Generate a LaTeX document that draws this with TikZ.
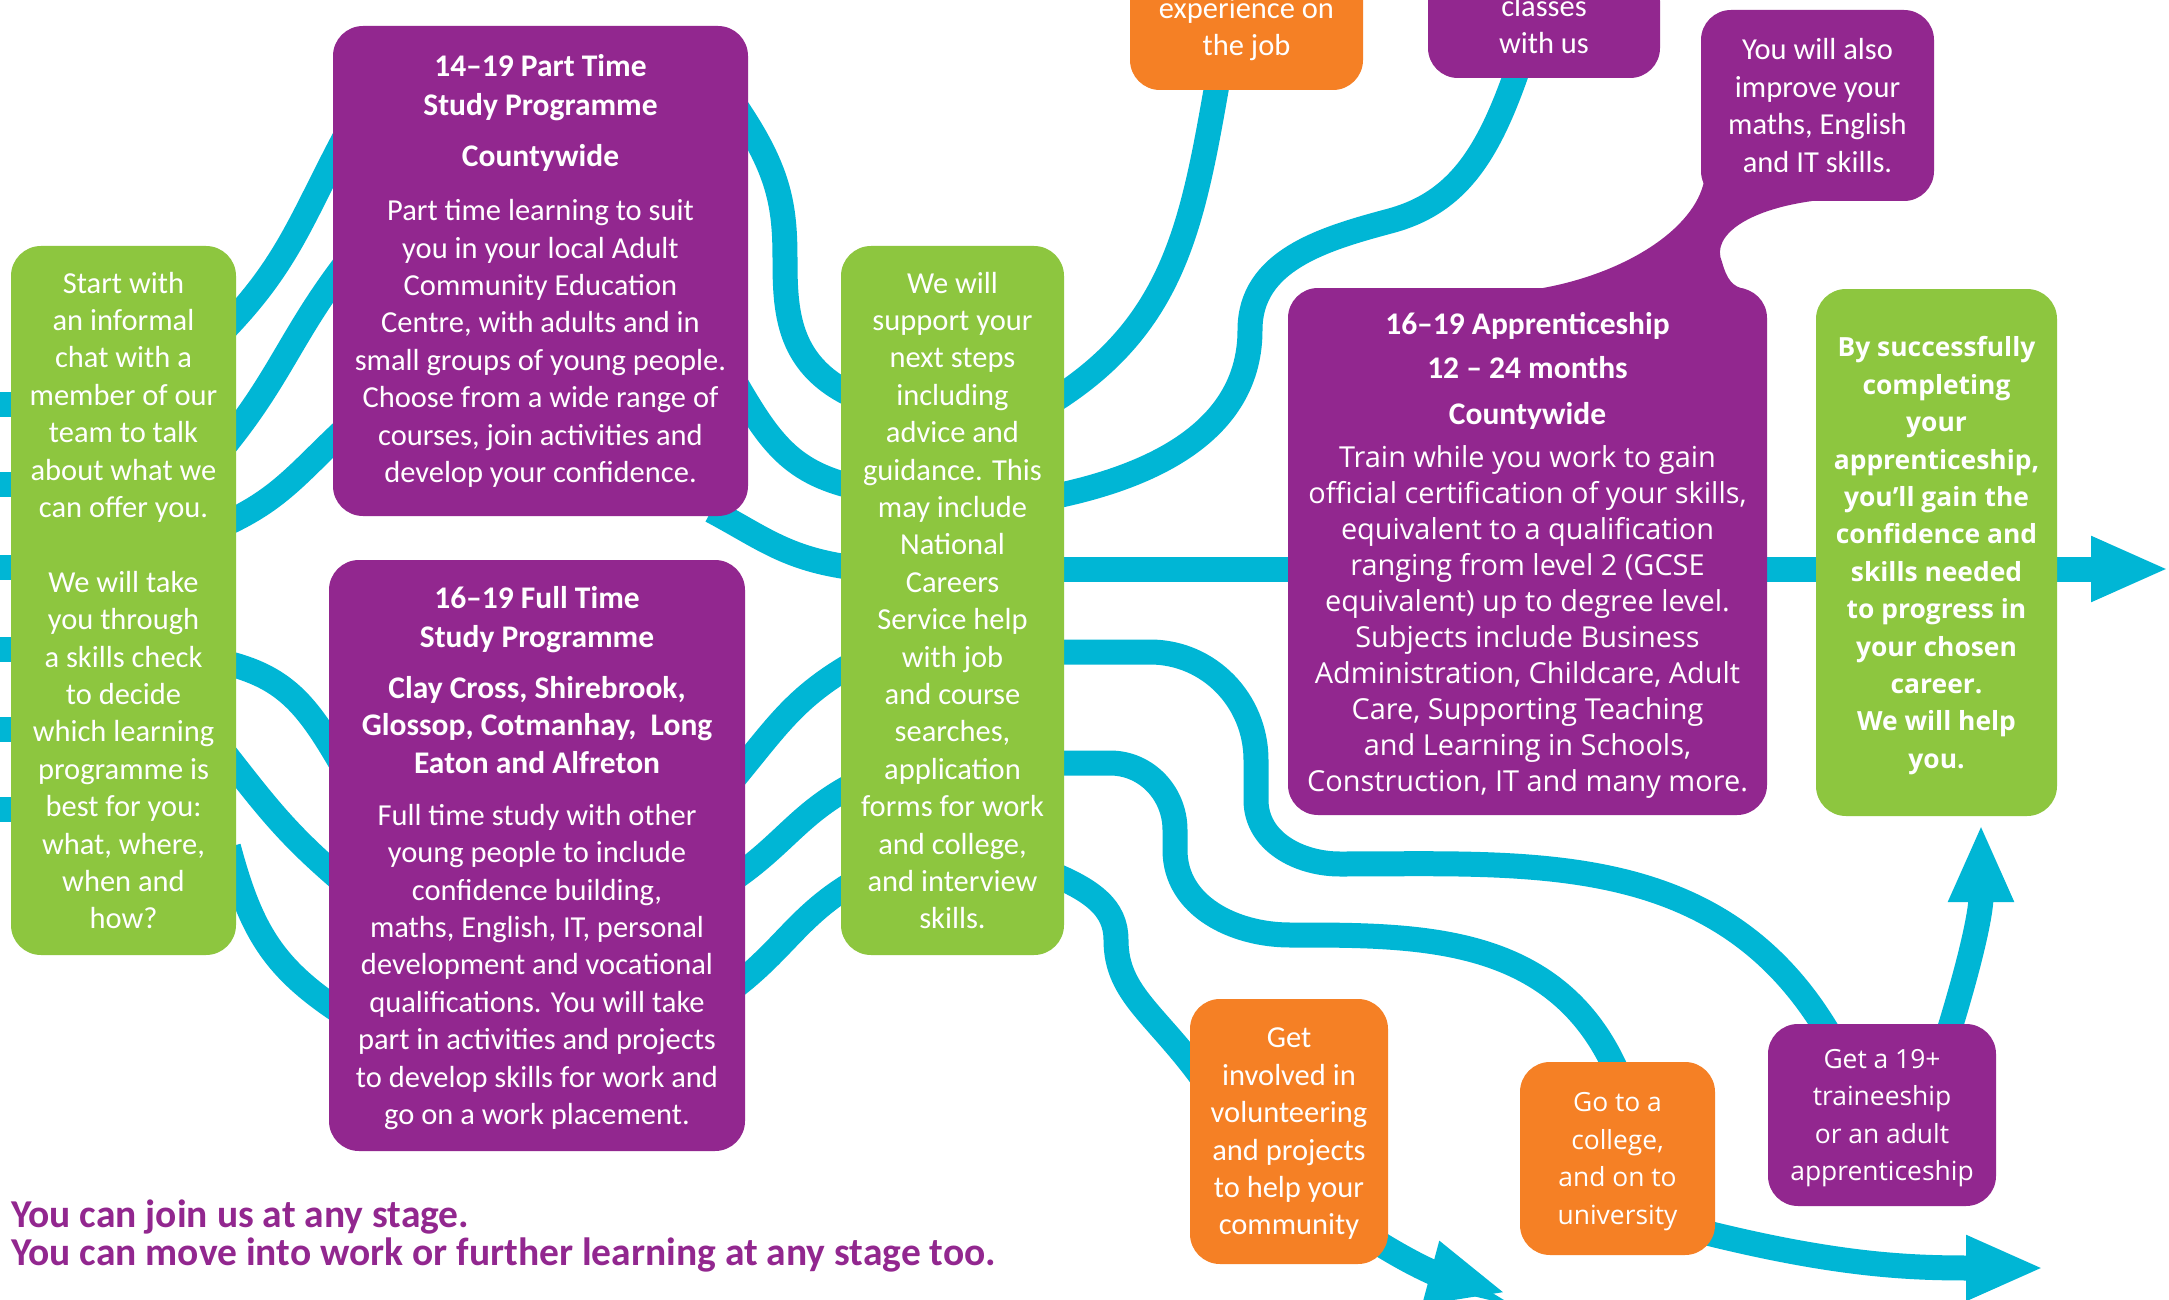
\documentclass[tikz,border=0pt]{standalone}
\usepackage{fontspec}
\setmainfont{Carlito}
\newfontfamily\widefont{Open Sans}
\usetikzlibrary{arrows.meta,backgrounds}

\definecolor{boxgreen}{HTML}{8DC63F}
\definecolor{boxpurple}{HTML}{92278F}
\definecolor{boxorange}{HTML}{F58025}
\definecolor{flowcyan}{HTML}{00B6D5}

\newcommand\boxfont{\fontsize{30.5}{37.4}\selectfont}
\newcommand\headfont{\rmfamily\bfseries\fontsize{31.5}{37.4}\selectfont}
\newcommand\widetxt{\widefont\fontsize{26.4}{37.4}\selectfont}
\newcommand\apprtxt{\widefont\fontsize{28.9}{36}\selectfont}
\newcommand\footfont{\bfseries\fontsize{39.5}{38}\selectfont}

\tikzset{
    box/.style={rounded corners=30pt, align=center, text=white, inner sep=3pt, font=\boxfont},
    greenbox/.style={box, fill=boxgreen},
    purplebox/.style={box, fill=boxpurple},
    orangebox/.style={box, fill=boxorange},
    boxsize/.style 2 args={minimum width=#1, minimum height=#2}, % 框的宽和高
    textdrop/.style={text depth=#1}, % 文字往下挪一点
}

\begin{document}
\begin{tikzpicture}[x=1pt, y=-1pt,
        flow/.style={draw=flowcyan, line width=25pt, shorten <=-30pt, shorten >=-30pt}, % 两端伸进框里
        flowarrow/.style={flow, shorten >=0pt, -{Triangle[length=78pt,width=60pt]}},
    ]
    \useasboundingbox (0,0) rectangle (2169,1300);

    % 气泡的尾巴
    \fill[boxpurple] (1520,300) -- (1543,288) .. controls (1630,272) and (1700,225) .. (1705,175)
        -- (1705,140) -- (1830,140) -- (1830,199) .. controls (1750,206) and (1710,235) .. (1722,262)
        .. controls (1727,280) and (1733,287) .. (1745,289) -- (1745,300) -- cycle;

    \node[greenbox, boxsize={225pt}{709pt}] (startbox) at (123.5,600.5) {Start with\\an informal\\chat with a\\member of our\\team to talk\\about what we\\can offer you.\\[37.4pt]We will take\\you through\\a skills check\\to decide\\which learning\\programme is\\best for you:\\what, where,\\when and\\how?};
    \node[purplebox, boxsize={415pt}{490pt}] (parttime) at (540.5,271) {{\headfont 14–19 Part Time}\\[1.6pt]{\headfont Study Programme}\\[13.6pt]{\headfont Countywide}\\[16.6pt]Part time learning to suit\\you in your local Adult\\Community Education\\Centre, with adults and in\\small groups of young people.\\Choose from a wide range of\\courses, join activities and\\develop your confidence.};
    \node[purplebox, boxsize={416pt}{591pt}, textdrop=0pt] (fulltime) at (537,855.5) {{\headfont 16–19 Full Time}\\[1.6pt]{\headfont Study Programme}\\[13.6pt]{\headfont Clay Cross, Shirebrook,}\\{\headfont Glossop, Cotmanhay,\ \ Long}\\{\headfont Eaton and Alfreton}\\[14.6pt]Full time study with other\\young people to include\\confidence building,\\maths, English, IT, personal\\development and vocational\\qualifications. You will take\\part in activities and projects\\to develop skills for work and\\go on a work placement.};
    \node[greenbox, boxsize={223pt}{709pt}, textdrop=-6pt] (midbox) at (952.5,600.5) {We will\\support your\\next steps\\including\\advice and\\guidance. This\\may include\\National\\Careers\\Service help\\with job\\and course\\searches,\\application\\forms for work\\and college,\\and interview\\skills.};
    \node[purplebox, boxsize={479pt}{527pt}, font=\apprtxt, textdrop=-5pt] (apprentice) at (1527.5,551.5) {{\headfont 16–19 Apprenticeship}\\[8pt]{\headfont 12 – 24 months}\\[10pt]{\headfont Countywide}\\[7pt]Train while you work to gain\\official certification of your skills,\\equivalent to a qualification\\ranging from level 2 (GCSE\\equivalent) up to degree level.\\Subjects include Business\\Administration, Childcare, Adult\\Care, Supporting Teaching\\and Learning in Schools,\\Construction, IT and many more.};
    \node[purplebox, boxsize={233pt}{191pt}] (alsobox) at (1817.5,105.5) {You will also\\improve your\\maths, English\\and IT skills.};
    \node[greenbox, boxsize={241pt}{527pt}, font=\widetxt\bfseries, textdrop=-7pt] (resultbox) at (1936.5,552.5) {By successfully\\completing\\your\\apprenticeship,\\you’ll gain the\\confidence and\\skills needed\\to progress in\\your chosen\\career.\\We will help\\you.};
    \node[orangebox, boxsize={233pt}{122pt}] (jobbox) at (1246.5,29) {experience on\\the job};
    \node[purplebox, boxsize={232pt}{107pt}] (classbox) at (1544,24.5) {classes\\with us};
    \node[orangebox, boxsize={198pt}{265pt}, textdrop=-4pt] (volbox) at (1289,1131.5) {Get\\involved in\\volunteering\\and projects\\to help your\\community};
    \node[orangebox, boxsize={195pt}{193pt}, font=\widetxt, textdrop=-5pt] (collegebox) at (1617.5,1158.5) {Go to a\\college,\\and on to\\university};
    \node[purplebox, boxsize={228pt}{182pt}, font=\widetxt, textdrop=-9pt] (trainbox) at (1882,1115) {Get a 19+\\traineeship\\or an adult\\apprenticeship};
    \node[anchor=west, align=left, inner sep=0pt, text=boxpurple, font=\footfont] (footnote) at (11,1236) {You can join us at any stage.\\You can move into work or further learning at any stage too.};

    \coordinate (exitR) at (2169,569);
    \coordinate (exitV) at (1506,1293);
    \coordinate (exitC) at (2044,1268);
    \coordinate (exitU) at (1981,824);

    \begin{scope}[on background layer]
        \fill[white] (0,0) rectangle (2169,1300);
        % 左边进来的线
        \foreach \k/\yy in {1/404,2/484,3/567,4/649,5/729,6/809}{
            \coordinate (in\k) at (0,\yy);
            \draw[flow] (in\k) -- (startbox.center |- in\k);
        }
        \draw[flow] (startbox.east |- 0,318) to[out=45,in=242] (parttime.west |- 0,160);
        \draw[flow] (startbox.east |- 0,432) to[out=50,in=232] (parttime.west |- 0,280);
        \draw[flow] (startbox.east |- 0,520) to[out=22,in=222] (parttime.west |- 0,440);
        \draw[flow] (startbox.east |- 0,664) to[out=-10,in=120] (fulltime.west |- 0,742);
        \draw[flow] (startbox.east |- 0,768) to[out=-52,in=140] (fulltime.west |- 0,870);
        \draw[flow] (startbox.east |- 0,876) to[out=-75,in=148] (fulltime.west |- 0,1005);
        % 中间的绿框
        \draw[flow] (parttime.east |- 0,124) to[out=-55,in=90] (785,260) to[out=-90,in=160] (midbox.west |- 0,392);
        \draw[flow] (parttime.east |- 0,405) to[out=-60,in=170] (midbox.west |- 0,485);
        \draw[flow, shorten <=-12pt] (722,0 |- parttime.south) to[out=-28,in=175] (midbox.west |- 0,567);
        \draw[flow] (fulltime.east |- 0,765) to[out=50,in=208] (midbox.west |- 0,670);
        \draw[flow] (fulltime.east |- 0,872) to[out=32,in=205] (midbox.west |- 0,790);
        \draw[flow] (fulltime.east |- 0,980) to[out=35,in=208] (midbox.west |- 0,889);
        % 往右分出去
        \draw[flow] (midbox.east |- 0,395) to[out=30,in=-100] (jobbox.south -| 1216,0);
        \draw[flow] (midbox.east |- 0,495) to[out=10,in=-90] (1250,330) to[out=90,in=195] (1390,221) to[out=15,in=-108] (classbox.south -| 1515,0);
        \draw[flowarrow] (midbox.center |- exitR) -- (exitR);
        \draw[flow] (midbox.east |- 0,652) -- (1150,652) to[out=0,in=90] (1256,760) -- (1256,800) to[out=-90,in=180] (1340,864) to[out=0,in=118] (trainbox.north -| 1824,0);
        \draw[flow] (midbox.east |- 0,763) -- (1110,763) to[out=0,in=90] (1175,830) -- (1175,850) to[out=-90,in=180] (1290,935) to[out=0,in=110] (collegebox.north -| 1614,0);
        \draw[flow] (midbox.east |- 0,878) to[out=-20,in=90] (1116,940) to[out=-90,in=125] (volbox.west |- 0,1060);
        \draw[flowarrow] ([shift={(-23,-29)}]volbox.south east) to[out=-35,in=165] (exitV);
        \draw[flowarrow] ([shift={(-20,-25)}]collegebox.south east) to[out=-15,in=180] (exitC);
        \draw[flowarrow] ([shift={(-51,20)}]trainbox.north east) to[out=72,in=-90] (exitU);
    \end{scope}
\end{tikzpicture}
\end{document}
